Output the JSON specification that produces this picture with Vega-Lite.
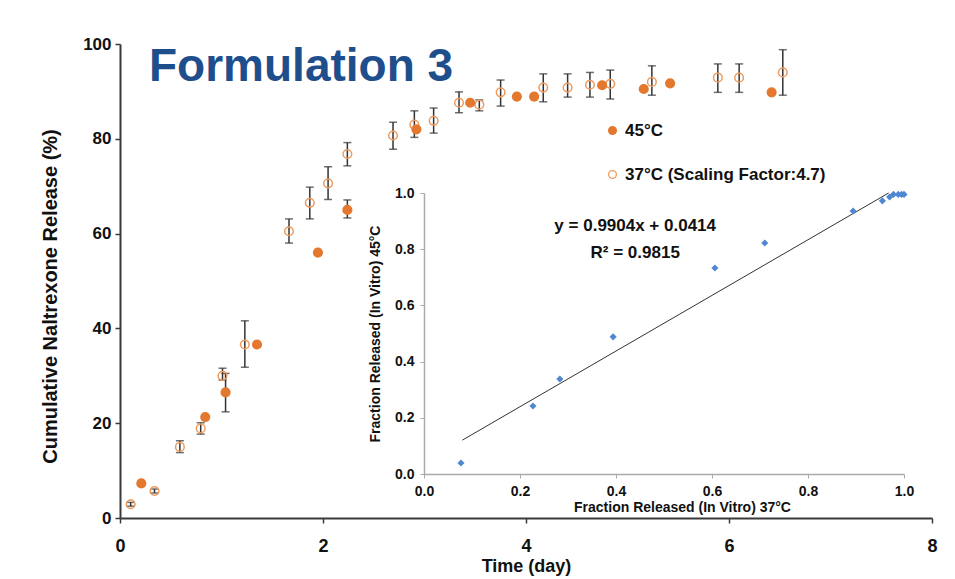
{
  "$schema": "https://vega.github.io/schema/vega-lite/v6.json",
  "width": 812,
  "height": 474,
  "autosize": {"type": "none"},
  "padding": {"left": 120, "top": 44, "right": 23, "bottom": 61},
  "background": "white",
  "config": {"view": {"stroke": null}, "font": "Liberation Sans"},
  "title": {"text": "Formulation 3", "anchor": "start", "frame": "group", "orient": "top", "fontSize": 46, "fontWeight": "bold", "color": "#1F4E8C", "font": "Liberation Sans", "offset": -44, "dx": 29, "dy": 48, "baseline": "alphabetic"},
  "datasets": {
    "release": [
      {"day": 0.105, "pct": 2.9, "lo": 2.5, "hi": 3.3, "series": "37°C (Scaling Factor:4.7)"},
      {"day": 0.34, "pct": 5.7, "lo": 5.3, "hi": 6.1, "series": "37°C (Scaling Factor:4.7)"},
      {"day": 0.59, "pct": 15.0, "lo": 13.8, "hi": 16.3, "series": "37°C (Scaling Factor:4.7)"},
      {"day": 0.795, "pct": 18.9, "lo": 17.7, "hi": 20.1, "series": "37°C (Scaling Factor:4.7)"},
      {"day": 1.01, "pct": 30.0, "lo": 29.1, "hi": 31.6, "series": "37°C (Scaling Factor:4.7)"},
      {"day": 1.23, "pct": 36.6, "lo": 31.8, "hi": 41.6, "series": "37°C (Scaling Factor:4.7)"},
      {"day": 1.665, "pct": 60.5, "lo": 58.0, "hi": 63.1, "series": "37°C (Scaling Factor:4.7)"},
      {"day": 1.87, "pct": 66.5, "lo": 63.1, "hi": 69.8, "series": "37°C (Scaling Factor:4.7)"},
      {"day": 2.05, "pct": 70.6, "lo": 67.2, "hi": 74.1, "series": "37°C (Scaling Factor:4.7)"},
      {"day": 2.24, "pct": 76.8, "lo": 74.3, "hi": 79.2, "series": "37°C (Scaling Factor:4.7)"},
      {"day": 2.69, "pct": 80.7, "lo": 77.8, "hi": 83.5, "series": "37°C (Scaling Factor:4.7)"},
      {"day": 2.90, "pct": 83.0, "lo": 80.3, "hi": 85.9, "series": "37°C (Scaling Factor:4.7)"},
      {"day": 3.09, "pct": 83.8, "lo": 81.2, "hi": 86.5, "series": "37°C (Scaling Factor:4.7)"},
      {"day": 3.34, "pct": 87.6, "lo": 85.5, "hi": 89.9, "series": "37°C (Scaling Factor:4.7)"},
      {"day": 3.54, "pct": 87.2, "lo": 85.9, "hi": 88.2, "series": "37°C (Scaling Factor:4.7)"},
      {"day": 3.75, "pct": 89.8, "lo": 86.9, "hi": 92.4, "series": "37°C (Scaling Factor:4.7)"},
      {"day": 4.17, "pct": 90.8, "lo": 87.8, "hi": 93.7, "series": "37°C (Scaling Factor:4.7)"},
      {"day": 4.41, "pct": 90.8, "lo": 88.8, "hi": 93.7, "series": "37°C (Scaling Factor:4.7)"},
      {"day": 4.63, "pct": 91.4, "lo": 88.8, "hi": 94.0, "series": "37°C (Scaling Factor:4.7)"},
      {"day": 4.83, "pct": 91.6, "lo": 88.4, "hi": 94.5, "series": "37°C (Scaling Factor:4.7)"},
      {"day": 5.24, "pct": 92.0, "lo": 89.2, "hi": 95.4, "series": "37°C (Scaling Factor:4.7)"},
      {"day": 5.89, "pct": 92.9, "lo": 89.8, "hi": 95.8, "series": "37°C (Scaling Factor:4.7)"},
      {"day": 6.10, "pct": 92.9, "lo": 89.8, "hi": 95.8, "series": "37°C (Scaling Factor:4.7)"},
      {"day": 6.53, "pct": 94.0, "lo": 89.2, "hi": 98.8, "series": "37°C (Scaling Factor:4.7)"},
      {"day": 0.21, "pct": 7.3, "series": "45°C"},
      {"day": 0.84, "pct": 21.3, "series": "45°C"},
      {"day": 1.04, "pct": 26.5, "lo": 22.4, "hi": 30.5, "series": "45°C"},
      {"day": 1.35, "pct": 36.6, "series": "45°C"},
      {"day": 1.95, "pct": 56.0, "series": "45°C"},
      {"day": 2.24, "pct": 65.0, "lo": 63.3, "hi": 67.1, "series": "45°C"},
      {"day": 2.92, "pct": 82.0, "series": "45°C"},
      {"day": 3.45, "pct": 87.6, "series": "45°C"},
      {"day": 3.91, "pct": 88.9, "series": "45°C"},
      {"day": 4.08, "pct": 88.9, "series": "45°C"},
      {"day": 4.75, "pct": 91.3, "series": "45°C"},
      {"day": 5.16, "pct": 90.5, "series": "45°C"},
      {"day": 5.42, "pct": 91.7, "series": "45°C"},
      {"day": 6.42, "pct": 89.8, "series": "45°C"}
    ],
    "ivivc": [
      {"fx": 0.077, "fy": 0.039},
      {"fx": 0.227, "fy": 0.242},
      {"fx": 0.283, "fy": 0.338},
      {"fx": 0.394, "fy": 0.488},
      {"fx": 0.606, "fy": 0.733},
      {"fx": 0.710, "fy": 0.822},
      {"fx": 0.894, "fy": 0.936},
      {"fx": 0.955, "fy": 0.972},
      {"fx": 0.970, "fy": 0.986},
      {"fx": 0.978, "fy": 0.995},
      {"fx": 0.988, "fy": 0.995},
      {"fx": 0.995, "fy": 0.995},
      {"fx": 1.0, "fy": 0.995}
    ],
    "fit": [
      {"fx": 0.08, "fy": 0.1206},
      {"fx": 0.968, "fy": 1.0001}
    ],
    "equation": [
      {"fx": 0.44, "fy": 0.881, "label": "y = 0.9904x + 0.0414\nR² = 0.9815"}
    ]
  },
  "layer": [
    {
      "data": {"name": "release"},
      "encoding": {
        "x": {"field": "day", "type": "quantitative", "scale": {"domain": [0, 8], "nice": false},
          "axis": {"values": [0, 2, 4, 6, 8], "title": "Time (day)", "grid": false, "labelFontSize": 18, "labelFontWeight": "bold", "labelColor": "#111", "labelPadding": 14, "domainColor": "#3a3a3a", "domainWidth": 2, "tickColor": "#3a3a3a", "tickWidth": 1.5, "tickSize": 5, "titleFontSize": 18, "titleFontWeight": "bold", "titleColor": "#111", "titlePadding": 2, "labelFlush": false}}
      },
      "layer": [
        {
          "transform": [{"filter": "isValid(datum.lo)"}],
          "mark": {"type": "errorbar", "color": "#333333", "ticks": {"size": 8, "thickness": 1.5, "color": "#333333"}, "rule": {"strokeWidth": 1.5, "color": "#333333"}},
          "encoding": {
            "y": {"field": "lo", "type": "quantitative", "scale": {"domain": [0, 100], "nice": false},
              "axis": {"values": [0, 20, 40, 60, 80, 100], "title": "Cumulative Naltrexone Release (%)", "grid": false, "labelFontSize": 17, "labelFontWeight": "bold", "labelColor": "#111", "labelPadding": 4, "domainColor": "#3a3a3a", "domainWidth": 2, "tickColor": "#3a3a3a", "tickWidth": 1.5, "tickSize": 5, "titleFontSize": 20, "titleFontWeight": "bold", "titleColor": "#111", "titlePadding": 22, "titleY": 252}},
            "y2": {"field": "hi"}
          }
        },
        {
          "mark": {"type": "point", "shape": "circle", "size": 75, "strokeWidth": 1.5, "opacity": 1},
          "encoding": {
            "y": {"field": "pct", "type": "quantitative", "scale": {"domain": [0, 100], "nice": false},
              "axis": {"values": [0, 20, 40, 60, 80, 100], "title": "Cumulative Naltrexone Release (%)", "grid": false, "labelFontSize": 17, "labelFontWeight": "bold", "labelColor": "#111", "labelPadding": 4, "domainColor": "#3a3a3a", "domainWidth": 2, "tickColor": "#3a3a3a", "tickWidth": 1.5, "tickSize": 5, "titleFontSize": 20, "titleFontWeight": "bold", "titleColor": "#111", "titlePadding": 22, "titleY": 252}},
            "fill": {"field": "series", "type": "nominal", "scale": {"domain": ["45°C", "37°C (Scaling Factor:4.7)"], "range": ["#E3782E", "transparent"]},
              "legend": {"orient": "none", "legendX": 484, "legendY": 78, "title": null, "labelFontSize": 17, "labelFontWeight": "bold", "labelColor": "#111", "labelLimit": 0, "symbolSize": 60, "symbolStrokeWidth": 1.3, "rowPadding": 26, "padding": 0, "labelOffset": 4}},
            "stroke": {"field": "series", "type": "nominal", "scale": {"domain": ["45°C", "37°C (Scaling Factor:4.7)"], "range": ["#E3782E", "#EE9A5C"]},
              "legend": {"orient": "none", "legendX": 484, "legendY": 78, "title": null, "labelFontSize": 17, "labelFontWeight": "bold", "labelColor": "#111", "labelLimit": 0, "symbolSize": 60, "symbolStrokeWidth": 1.3, "rowPadding": 26, "padding": 0, "labelOffset": 4}}
          }
        }
      ]
    },
    {
      "encoding": {
        "x": {"field": "fx", "type": "quantitative", "scale": {"domain": [0, 1], "range": [304, 784], "nice": false, "zero": false},
          "axis": {"orient": "bottom", "offset": -44, "values": [0, 0.2, 0.4, 0.6, 0.8, 1.0], "format": ".1f", "title": "Fraction Released (In Vitro) 37°C", "grid": false, "domainColor": "#aaaaaa", "domainWidth": 1.5, "tickColor": "#aaaaaa", "tickSize": 4, "labelFontSize": 14, "labelFontWeight": "bold", "labelColor": "#111", "labelPadding": 6, "labelFlush": false, "titleFontSize": 14, "titleFontWeight": "bold", "titleColor": "#111", "titleX": 562, "titleY": 33, "titleBaseline": "middle"}},
        "y": {"field": "fy", "type": "quantitative", "scale": {"domain": [0, 1], "range": [430, 149], "nice": false, "zero": false},
          "axis": {"orient": "left", "offset": -304, "values": [0, 0.2, 0.4, 0.6, 0.8, 1.0], "format": ".1f", "title": "Fraction Released (In Vitro) 45°C", "grid": false, "domainColor": "#aaaaaa", "domainWidth": 1.5, "tickColor": "#aaaaaa", "tickSize": 4, "labelFontSize": 14, "labelFontWeight": "bold", "labelColor": "#111", "labelPadding": 6, "labelFlush": false, "titleFontSize": 14, "titleFontWeight": "bold", "titleColor": "#111", "titleX": -49, "titleBaseline": "middle", "titleAngle": 270}}
      },
      "layer": [
        {"data": {"name": "fit"}, "mark": {"type": "line", "color": "#333333", "strokeWidth": 1}},
        {"data": {"name": "ivivc"}, "mark": {"type": "point", "shape": "diamond", "filled": true, "color": "#4F87D3", "size": 50, "opacity": 1}},
        {"data": {"name": "equation"}, "mark": {"type": "text", "fontSize": 17, "fontWeight": "bold", "color": "#111", "align": "center", "baseline": "middle", "lineBreak": "\n", "lineHeight": 27, "font": "Liberation Sans"},
          "encoding": {"text": {"field": "label"}}}
      ]
    }
  ],
  "resolve": {"scale": {"x": "independent", "y": "independent", "fill": "independent", "stroke": "independent"}, "axis": {"x": "independent", "y": "independent"}}
}
